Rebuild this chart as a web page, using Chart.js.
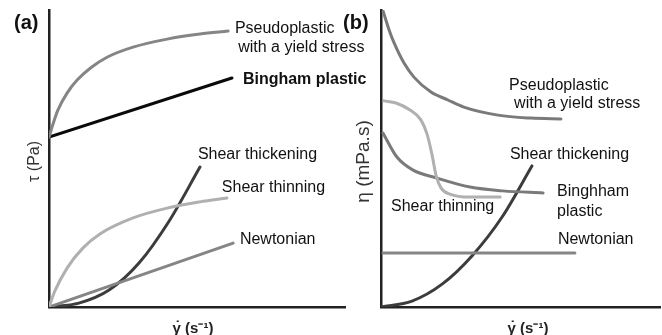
<!DOCTYPE html>
<html>
<head>
<meta charset="utf-8">
<script src="https://cdn.jsdelivr.net/npm/chart.js@4/dist/chart.umd.min.js"></script>
<style>
  html, body { margin: 0; padding: 0; background: #fff; }
  #wrap { position: relative; width: 662px; height: 335px; }
  canvas { position: absolute; left: 0; top: 0; }
</style>
</head>
<body>
<div id="wrap">
  <canvas id="stress" width="662" height="335"></canvas>
  <canvas id="viscosity" width="662" height="335"></canvas>
</div>
<script>
// (a) shear stress vs shear rate, [shear rate, stress] in relative units 0-100
const stressPseudoplastic = [[0,57.2],[1.35,61.6],[3.0,66.3],[6.1,72.0],[9.5,76.4],[13.9,80.4],[19.6,84.1],[28.4,87.5],[39.9,90.2],[51.0,91.9],[60.5,92.9]];
const stressBingham = [[0,57.2],[61.8,77.1]];
const stressThickening = [[0,0],[10.1,1.3],[20.3,5.7],[30.4,14.8],[40.5,28.8],[51.0,47.1]];
const stressThinning = [[0,0],[2.0,5.4],[6.1,13.1],[11.5,19.9],[17.2,24.6],[28.4,30.0],[39.9,33.3],[51.0,35.4],[60.1,36.7]];
const stressNewtonian = [[0,0],[62.2,21.5]];

// (b) viscosity vs shear rate, [shear rate, viscosity] in relative units 0-100
const viscPseudoplastic = [[0.8,99.5],[2.9,93.3],[4.7,88.9],[8.2,82.2],[11.8,77.4],[17.9,72.4],[24.0,69.7],[29.7,67.3],[41.9,64.6],[53.8,63.6],[64.5,63.3]];
const viscThinning = [[1.1,69.4],[5.4,68.7],[10.4,66.3],[14.3,63.0],[16.5,58.2],[18.3,51.2],[19.7,44.4],[21.5,40.1],[24.7,38.0],[31.9,37.0],[42.7,37.0]];
const viscBingham = [[0.7,58.6],[5.7,50.5],[11.5,46.1],[20.1,43.4],[31.9,40.4],[43.7,39.1],[58.1,38.4]];
const viscThickening = [[0,0],[11.1,2.0],[21.9,7.7],[32.6,17.2],[43.4,30.3],[54.1,47.5]];
const viscNewtonian = [[0.7,18.2],[69.5,18.2]];

const toXY = arr => arr.map(([x, y]) => ({ x, y }));

function series(data, color) {
  return {
    data: toXY(data),
    borderColor: color,
    borderWidth: 3,
    pointRadius: 0,
    cubicInterpolationMode: 'monotone',
    borderCapStyle: 'round',
    borderJoinStyle: 'round',
    fill: false
  };
}

const FONT = '"Liberation Sans", Arial, sans-serif';

// Shear-rate title: gamma with an overdot, then the unit
function drawRateTitle(ctx, cx, cy) {
  ctx.font = 'bold 15px ' + FONT;
  const g = 'γ', rest = ' (s⁻¹)';
  const gw = ctx.measureText(g).width;
  const w = gw + ctx.measureText(rest).width;
  const x0 = cx - w / 2;
  ctx.textAlign = 'left';
  ctx.fillText(g, x0, cy);
  ctx.fillText(rest, x0 + gw, cy);
  ctx.textAlign = 'center';
  ctx.fillText('˙', x0 + gw / 2 + 1, cy - 2);
}

// Curve labels, axis titles and panel letters drawn in data / axis coordinates
const annotate = {
  id: 'annotate',
  afterDatasetsDraw(chart, args, opts) {
    const { ctx, chartArea: a, scales: { x, y } } = chart;
    ctx.save();
    ctx.textBaseline = 'middle';
    ctx.textAlign = 'left';
    for (const l of opts.labels) {
      ctx.font = (l.bold ? 'bold ' : '') + '16px ' + FONT;
      ctx.fillStyle = '#111';
      ctx.fillText(l.text, x.getPixelForValue(l.x), y.getPixelForValue(l.y));
    }
    // panel letter
    ctx.font = 'bold 20px ' + FONT;
    ctx.fillStyle = '#111';
    ctx.fillText(opts.letter, a.left + opts.letterDx, a.top + 13);
    // x title
    ctx.fillStyle = '#222';
    drawRateTitle(ctx, a.left + opts.xTitleDx, a.bottom + 22);
    // y title
    ctx.textAlign = 'center';
    ctx.translate(a.left + opts.yTitleDx, y.getPixelForValue(opts.yTitleAt));
    ctx.rotate(-Math.PI / 2);
    ctx.font = opts.yTitleFont;
    ctx.fillStyle = '#333';
    ctx.fillText(opts.yTitle, 0, 0);
    ctx.restore();
  }
};

function axisScales() {
  const axis = {
    type: 'linear', min: 0, max: 100,
    ticks: { display: false },
    grid: { display: false, drawTicks: false },
    border: { display: true, color: '#222', width: 2.5 }
  };
  return { x: { ...axis }, y: { ...axis } };
}

function makeChart(id, datasets, padding, annot) {
  return new Chart(document.getElementById(id), {
    type: 'line',
    data: { datasets },
    options: {
      responsive: false,
      animation: false,
      layout: { padding },
      scales: axisScales(),
      plugins: { legend: { display: false }, tooltip: { enabled: false }, annotate: annot }
    },
    plugins: [annotate]
  });
}

makeChart('stress', [
  series(stressThinning, '#b0b0b0'),
  series(stressNewtonian, '#858585'),
  series(stressPseudoplastic, '#858585'),
  series(stressThickening, '#3c3c3c'),
  series(stressBingham, '#0a0a0a')
], { left: 49, right: 317, top: 10, bottom: 28 }, {
  letter: '(a)', letterDx: -35,
  xTitleDx: 144,
  yTitle: 'τ (Pa)', yTitleDx: -14, yTitleAt: 49, yTitleFont: '16px ' + FONT,
  labels: [
    { text: 'Pseudoplastic', x: 62.8, y: 93.9 },
    { text: 'with a yield stress', x: 63.9, y: 87.5 },
    { text: 'Bingham plastic', x: 65.5, y: 76.4, bold: true },
    { text: 'Shear thickening', x: 50.3, y: 51.2 },
    { text: 'Shear thinning', x: 58.4, y: 40.1 },
    { text: 'Newtonian', x: 64.5, y: 22.6 }
  ]
});

makeChart('viscosity', [
  series(viscThinning, '#b0b0b0'),
  series(viscNewtonian, '#858585'),
  series(viscBingham, '#7a7a7a'),
  series(viscPseudoplastic, '#7a7a7a'),
  series(viscThickening, '#3c3c3c')
], { left: 381, right: 2, top: 10, bottom: 28 }, {
  letter: '(b)', letterDx: -38,
  xTitleDx: 147,
  yTitle: 'η (mPa.s)', yTitleDx: -17, yTitleAt: 49, yTitleFont: '19px ' + FONT,
  labels: [
    { text: 'Pseudoplastic', x: 45.9, y: 74.7 },
    { text: 'with a yield stress', x: 47.7, y: 68.4 },
    { text: 'Shear thickening', x: 46.2, y: 51.2 },
    { text: 'Binghham', x: 63.1, y: 38.7 },
    { text: 'plastic', x: 63.1, y: 32.0 },
    { text: 'Shear thinning', x: 3.6, y: 33.7 },
    { text: 'Newtonian', x: 63.4, y: 22.6 }
  ]
});
</script>
</body>
</html>
